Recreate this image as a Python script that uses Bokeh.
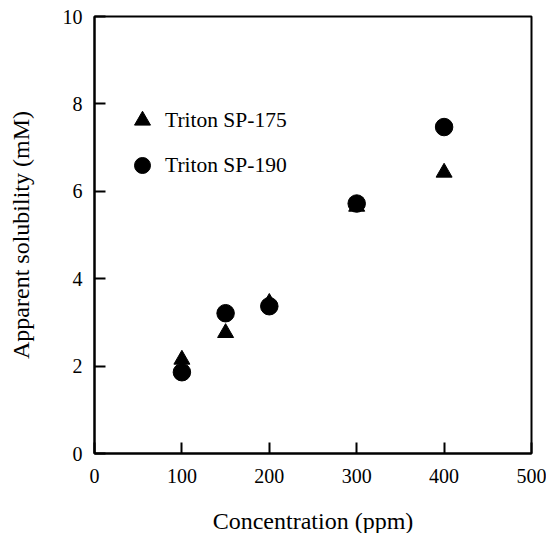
from bokeh.plotting import figure
from bokeh.models import Legend, LegendItem, Range1d, FixedTicker
from bokeh.embed import file_html
from bokeh.resources import INLINE

# data
conc = [100, 150, 200, 300, 400]
sp175 = [2.15, 2.76, 3.45, 5.65, 6.43]
sp190 = [1.86, 3.21, 3.37, 5.72, 7.47]
x_ticks = [0, 100, 200, 300, 400, 500]
y_ticks = [0, 2, 4, 6, 8, 10]

FONT = "Liberation Serif"

p = figure(width=546, height=532, output_backend="svg", toolbar_location=None,
           x_range=Range1d(0, 500), y_range=Range1d(0, 10),
           frame_width=437, frame_height=437,
           min_border_left=94, min_border_right=15, min_border_top=16, min_border_bottom=79)

p.background_fill_color = "white"
p.border_fill_color = "white"
p.outline_line_color = "black"
p.outline_line_width = 2
p.grid.visible = False

for ax in (p.xaxis[0], p.yaxis[0]):
    ax.axis_line_color = "black"
    ax.axis_line_width = 2
    ax.major_tick_in = 11
    ax.major_tick_out = 0
    ax.major_tick_line_width = 2
    ax.minor_tick_line_color = None
    ax.major_label_text_font = FONT
    ax.major_label_text_font_size = "20px"
    ax.major_label_text_color = "black"
    ax.axis_label_text_font = FONT
    ax.axis_label_text_font_size = "24px"
    ax.axis_label_text_font_style = "normal"
    ax.axis_label_text_color = "black"

p.xaxis.ticker = FixedTicker(ticks=x_ticks)
p.yaxis.ticker = FixedTicker(ticks=y_ticks)
p.xaxis.axis_label = "Concentration (ppm)"
p.yaxis.axis_label = "Apparent solubility (mM)"
p.xaxis.major_label_standoff = 15
p.yaxis.major_label_standoff = 12
p.xaxis.axis_label_standoff = 22
p.yaxis.axis_label_standoff = 26

r1 = p.scatter(conc, sp175, marker="triangle", size=16, color="black")
r2 = p.scatter(conc, sp190, marker="circle", size=17.5, color="black")

legend = Legend(items=[LegendItem(label="Triton SP-175", renderers=[r1]),
                       LegendItem(label="Triton SP-190", renderers=[r2])],
                location=(28, 268), glyph_width=40, glyph_height=40,
                label_height=40, spacing=5, padding=0, margin=0,
                label_standoff=3, border_line_color=None,
                background_fill_alpha=0,
                label_text_font=FONT, label_text_font_size="21.5px",
                label_text_color="black")
p.add_layout(legend, "center")

open("out.html", "w").write(file_html(p, INLINE))
